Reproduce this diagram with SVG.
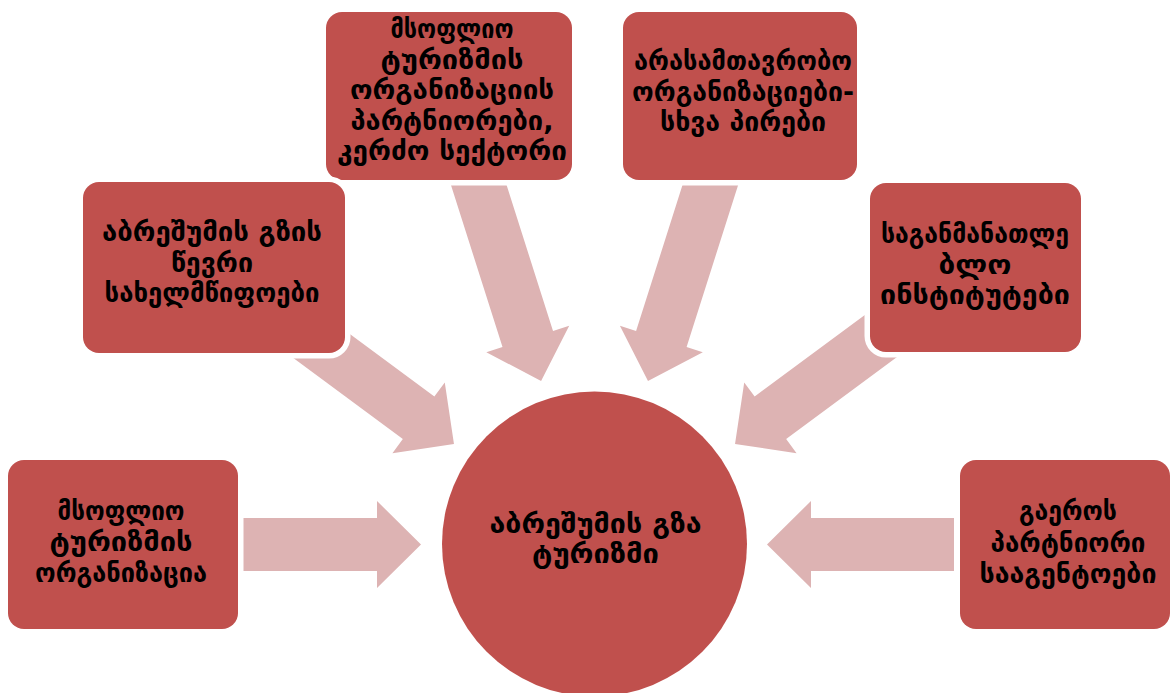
<svg xmlns="http://www.w3.org/2000/svg" width="1171" height="693" viewBox="0 0 1171 693">
<style>
.box{fill:#C0504D;stroke:#FFFFFF;stroke-width:11;paint-order:stroke}
.arr{fill:#DDB3B3}
.t{font-family:"DejaVu Sans","Noto Sans",sans-serif;font-size:26px;font-weight:bold;fill:#000;text-anchor:middle}
</style>
<rect width="1171" height="693" fill="#FFFFFF"/>
<g id="connectors">
<polygon class="arr" transform="translate(243,544.5)" points="0,-26.5 134,-26.5 134,-43.5 178,0 134,43.5 134,26.5 0,26.5"/>
<polygon class="arr" transform="translate(954,544.5) rotate(180)" points="0,-26.5 143,-26.5 143,-43.5 187,0 143,43.5 143,26.5 0,26.5"/>
<polygon class="arr" transform="translate(470,157.4) rotate(72.36)" points="0,-26.5 190.6,-26.5 190.6,-43.5 234.6,0 190.6,43.5 190.6,26.5 0,26.5"/>
<polygon class="arr" transform="translate(719.1,157.4) rotate(107.64)" points="0,-26.5 190.6,-26.5 190.6,-43.5 234.6,0 190.6,43.5 190.6,26.5 0,26.5"/>
<polygon class="arr" transform="translate(293.2,325) rotate(36.5)" points="0,-26.5 156,-26.5 156,-44 200,0 156,44 156,26.5 0,26.5"/>
<polygon class="arr" transform="translate(895.8,325) rotate(143.5)" points="0,-26.5 156,-26.5 156,-44 200,0 156,44 156,26.5 0,26.5"/>
</g>
<g id="center">
<circle class="box" cx="594.5" cy="544" r="152.5"/>
<text class="t" x="595.5" y="533" textLength="212" lengthAdjust="spacingAndGlyphs">აბრეშუმის გზა</text>
<text class="t" x="595.5" y="563" textLength="127" lengthAdjust="spacingAndGlyphs">ტურიზმი</text>
</g>
<g id="n-top-left">
<rect class="box" x="326" y="12" width="246" height="168" rx="16"/>
<text class="t" x="452" y="38" textLength="123" lengthAdjust="spacingAndGlyphs">მსოფლიო</text>
<text class="t" x="452" y="68.5" textLength="143" lengthAdjust="spacingAndGlyphs">ტურიზმის</text>
<text class="t" x="452" y="99" textLength="204" lengthAdjust="spacingAndGlyphs">ორგანიზაციის</text>
<text class="t" x="452" y="129.5" textLength="203" lengthAdjust="spacingAndGlyphs">პარტნიორები,</text>
<text class="t" x="452" y="160" textLength="230" lengthAdjust="spacingAndGlyphs">კერძო სექტორი</text>
</g>
<g id="n-top-right">
<rect class="box" x="623" y="12" width="234" height="168" rx="16"/>
<text class="t" x="743" y="70" textLength="218" lengthAdjust="spacingAndGlyphs">არასამთავრობო</text>
<text class="t" x="743" y="100.5" textLength="222" lengthAdjust="spacingAndGlyphs">ორგანიზაციები-</text>
<text class="t" x="743" y="131" textLength="166" lengthAdjust="spacingAndGlyphs">სხვა პირები</text>
</g>
<g id="n-left-upper">
<rect class="box" x="83" y="182" width="262" height="171" rx="16"/>
<text class="t" x="212" y="241" textLength="220" lengthAdjust="spacingAndGlyphs">აბრეშუმის გზის</text>
<text class="t" x="212" y="271.5" textLength="82" lengthAdjust="spacingAndGlyphs">წევრი</text>
<text class="t" x="212" y="302" textLength="215" lengthAdjust="spacingAndGlyphs">სახელმწიფოები</text>
</g>
<g id="n-right-upper">
<rect class="box" x="870" y="183" width="211" height="169" rx="16"/>
<text class="t" x="975" y="243" textLength="188" lengthAdjust="spacingAndGlyphs">საგანმანათლე</text>
<text class="t" x="975" y="273.5" textLength="73" lengthAdjust="spacingAndGlyphs">ბლო</text>
<text class="t" x="975" y="304" textLength="190" lengthAdjust="spacingAndGlyphs">ინსტიტუტები</text>
</g>
<g id="n-left-lower">
<rect class="box" x="8" y="460" width="230" height="169" rx="16"/>
<text class="t" x="121" y="520" textLength="127" lengthAdjust="spacingAndGlyphs">მსოფლიო</text>
<text class="t" x="121" y="551" textLength="143" lengthAdjust="spacingAndGlyphs">ტურიზმის</text>
<text class="t" x="121" y="582" textLength="172" lengthAdjust="spacingAndGlyphs">ორგანიზაცია</text>
</g>
<g id="n-right-lower">
<rect class="box" x="960" y="460" width="210" height="169" rx="16"/>
<text class="t" x="1068" y="520" textLength="98" lengthAdjust="spacingAndGlyphs">გაეროს</text>
<text class="t" x="1068" y="552" textLength="155" lengthAdjust="spacingAndGlyphs">პარტნიორი</text>
<text class="t" x="1068" y="583" textLength="177" lengthAdjust="spacingAndGlyphs">სააგენტოები</text>
</g>
</svg>
